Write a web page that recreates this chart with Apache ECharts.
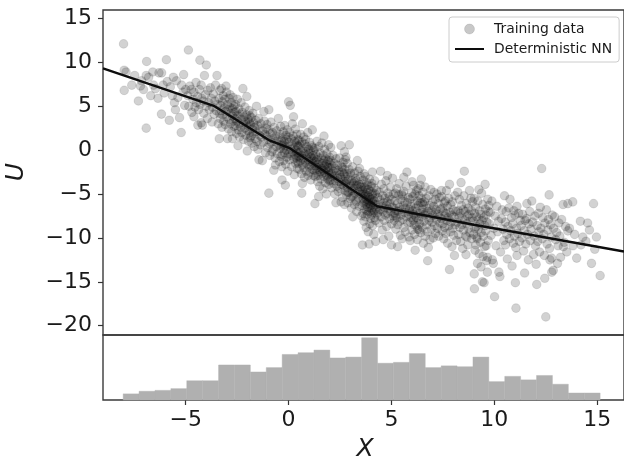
<!DOCTYPE html>
<html>
<head>
<meta charset="utf-8">
<script src="https://cdn.jsdelivr.net/npm/echarts/dist/echarts.min.js"></script>
<style>
  html, body { margin: 0; padding: 0; background: #ffffff; }
  #chart { width: 624px; height: 462px; }
</style>
</head>
<body>
<div id="chart"></div>
<script>
// Training samples (x, u), grouped by x range
const trainLeft = [
  [-8.02,12.1],[-7.99,9.1],[-7.9,8.9],[-7.99,6.8],[-7.3,5.6],[-7.62,7.4],[-7.48,8.5],
  [-6.9,10.1],[-6.92,8.5],[-6.8,8.3],[-6.92,2.5],[-6.56,7.4],[-7.15,7.9],[-7.05,6.9],[-6.7,6.2],[-6.6,8.9],[-7.2,7.3],
  [-6.3,8.8],[-6.17,8.8],[-6.47,7.0],[-6.18,4.1],[-5.94,10.3],[-5.8,3.4],[-5.75,7.2],[-6.05,6.5],[-6.35,5.9],[-5.9,7.8],[-6.1,7.4],
  [-5.3,3.7],[-5.22,2.0],[-5.2,7.4],[-5.13,6.6],[-5.65,6.2],[-5.55,5.4],[-5.45,7.9],[-5.38,6.0],[-5.6,8.3],[-5.05,5.1],[-5.0,6.9],[-5.5,4.6],[-5.1,8.6],
  [-4.87,11.4],[-4.73,6.9],[-4.41,2.85],[-4.31,10.25],[-4.25,3.1],[-4.19,2.85],[-4.9,6.2],[-4.85,5.0],[-4.8,7.3],[-4.7,4.3],[-4.65,5.8],
  [-4.6,6.6],[-4.55,4.9],[-4.5,7.7],[-4.48,5.4],[-4.42,6.1],[-4.38,4.6],[-4.33,6.9],[-4.3,5.2],[-4.25,7.4],[-4.22,5.9],[-4.6,3.8],
  [-4.0,9.7],[-4.09,8.5],[-3.48,8.5],[-4.15,5.6],[-4.12,4.2],[-4.05,6.3],[-4.0,5.0],[-3.95,3.6],[-3.92,6.8],[-3.88,5.4],[-3.85,4.6],
  [-3.8,7.1],[-3.76,5.9],[-3.72,3.2],[-3.7,4.9],[-3.66,6.4],[-3.62,4.1],[-3.58,5.6],[-3.55,7.4],[-3.52,4.5],[-3.45,5.2],[-3.42,3.0]
];
const trainCentre = [
  [-3.37,1.3],[-3.04,7.3],[-2.97,1.3],[-2.73,1.3],[-3.38,5.9],[-3.36,4.2],[-3.34,6.8],[-3.32,3.6],[-3.3,5.1],[-3.28,4.5],
  [-3.26,7.0],[-3.24,2.6],[-3.22,5.5],[-3.2,4.0],[-3.18,6.2],[-3.15,3.3],[-3.12,4.8],[-3.1,5.8],[-3.08,2.9],[-3.06,4.4],
  [-3.02,6.6],[-3.0,3.8],[-2.98,5.2],[-2.95,4.6],[-2.92,2.4],[-2.9,5.9],[-2.88,3.5],[-2.86,4.9],[-2.84,6.3],[-2.82,3.0],
  [-2.8,4.2],[-2.78,5.4],[-2.76,2.1],[-2.74,3.9],[-2.72,4.7],[-2.7,6.0],[-2.68,3.3],[-2.66,5.0],[-2.65,2.7],[-2.64,4.3],
  [-2.46,0.5],[-2.22,7.0],[-2.01,-0.1],[-2.6,3.6],[-2.58,5.2],[-2.57,2.8],[-2.55,4.4],[-2.53,1.9],[-2.51,3.3],[-2.49,5.8],
  [-2.47,3.9],[-2.44,2.3],[-2.42,4.7],[-2.4,3.0],[-2.38,1.5],[-2.36,4.1],[-2.33,2.6],[-2.31,5.4],[-2.29,3.5],[-2.27,2.0],
  [-2.25,4.3],[-2.2,3.1],[-2.18,1.2],[-2.16,3.8],[-2.14,2.5],[-2.12,4.9],[-2.1,3.3],[-2.08,1.7],[-2.06,2.9],[-2.04,4.0],
  [-2.03,6.1],[-1.99,2.2],[-1.97,3.5],[-1.95,1.0],[-1.93,2.7],[-1.92,4.5],[-1.9,3.2],[-1.89,2.0],[-1.88,3.9],[-1.87,1.4],
  [-1.44,-1.1],[-1.28,-1.2],[-1.2,4.4],[-1.85,2.9],[-1.83,1.6],[-1.81,3.7],[-1.79,0.8],[-1.76,2.4],[-1.74,4.2],[-1.72,1.9],
  [-1.7,3.1],[-1.67,0.4],[-1.65,2.6],[-1.63,1.3],[-1.6,3.4],[-1.58,2.1],[-1.56,5.0],[-1.53,1.0],[-1.51,2.8],[-1.49,0.1],
  [-1.46,3.6],[-1.42,1.7],[-1.4,2.4],[-1.37,0.6],[-1.34,3.0],[-1.31,1.5],[-1.26,2.2],[-1.23,0.9],[-1.18,3.3],[-1.15,1.8],
  [-1.12,-0.3],[-1.1,2.5],
  [-0.96,4.6],[-0.96,-4.9],[-0.72,-2.3],[-0.64,-1.7],[-0.32,-3.4],[-1.07,1.6],[-1.05,2.9],[-1.03,0.3],[-1.0,1.2],[-0.98,2.3],
  [-0.93,0.7],[-0.91,-0.6],[-0.89,1.9],[-0.86,3.2],[-0.84,0.9],[-0.81,-0.2],[-0.79,2.0],[-0.77,1.3],[-0.75,0.1],[-0.7,2.6],
  [-0.68,1.0],[-0.66,-0.9],[-0.62,1.6],[-0.6,0.4],[-0.57,2.2],[-0.55,-0.4],[-0.52,1.2],[-0.5,3.6],[-0.47,0.6],[-0.45,-1.3],
  [-0.43,1.8],[-0.41,0.2],[-0.39,2.7],[-0.37,-0.7],[-0.35,1.1],[-0.34,0.5],[-0.33,-1.9],
  [-0.16,-4.0],[0.0,5.5],[0.08,5.1],[0.24,3.8],[-0.3,1.4],[-0.29,-0.5],[-0.28,0.7],[-0.26,2.1],[-0.25,-1.2],[-0.23,0.2],
  [-0.22,1.0],[-0.2,-0.3],[-0.19,2.8],[-0.17,0.5],[-0.14,-1.6],[-0.13,1.7],[-0.11,0.0],[-0.1,1.2],[-0.08,-0.8],[-0.07,2.3],
  [-0.05,0.4],[-0.04,-2.4],[-0.02,1.5],[0.01,-0.4],[0.03,0.9],[0.05,-1.1],[0.06,2.0],[0.1,0.1],[0.11,-0.6],[0.13,1.3],
  [0.15,-1.9],[0.16,0.6],[0.18,3.0],[0.2,-0.2],[0.22,1.6],[0.25,-1.0],[0.27,0.3],[0.28,-2.8],[0.3,1.0],[0.31,-0.5],
  [0.33,2.4],[0.34,-1.5],[0.36,0.0],[0.37,0.8],[0.39,-0.9],[0.4,1.8],[0.41,-0.3],[0.42,-2.1],[0.43,0.5],[0.44,-1.3],
  [0.45,1.2],[0.46,-0.7]
];
const trainSlope = [
  [0.64,-4.9],[0.67,3.0],[0.67,-3.8],[1.15,2.3],[0.47,0.4],[0.48,-1.5],[0.5,-0.3],[0.51,1.1],[0.53,-2.2],[0.54,-0.8],
  [0.56,0.6],[0.57,-1.2],[0.59,1.8],[0.6,-0.1],[0.62,-2.7],[0.63,-0.6],[0.65,0.9],[0.68,-1.7],[0.7,0.2],[0.71,-1.0],
  [0.73,1.5],[0.74,-2.0],[0.76,-0.4],[0.77,-3.1],[0.79,0.7],[0.8,-1.4],[0.82,-0.2],[0.83,1.2],[0.85,-2.4],[0.86,-0.9],
  [0.88,0.4],[0.9,-1.6],[0.91,-0.6],[0.93,2.0],[0.94,-2.9],[0.96,-1.1],[0.97,0.1],[0.99,-1.9],[1.0,-0.4],[1.02,0.9],
  [1.03,-2.5],[1.05,-1.3],[1.06,-0.1],[1.08,-3.4],[1.09,-0.8],[1.11,0.5],[1.12,-1.8],[1.14,-1.0],[1.16,-2.2],[1.17,0.3],
  [1.19,-1.5],[1.2,-0.6],[1.21,-2.9],[1.22,0.0],
  [1.28,-6.1],[1.24,-0.9],[1.25,-2.3],[1.27,-1.3],[1.29,0.2],[1.3,-3.0],[1.32,-1.8],[1.33,-0.5],[1.35,-2.6],[1.36,-1.1],
  [1.38,1.0],[1.39,-2.0],[1.41,-3.6],[1.42,-0.8],[1.44,-1.6],[1.45,-2.9],[1.47,0.4],[1.48,-2.2],[1.5,-1.4],[1.51,-4.1],
  [1.53,-0.3],[1.54,-2.5],[1.56,-1.9],[1.57,-3.3],[1.59,-0.9],[1.6,-2.1],[1.62,0.8],[1.63,-2.7],[1.65,-1.5],[1.66,-4.4],
  [1.68,-0.6],[1.69,-2.3],[1.71,-1.2],[1.72,-3.0],[1.74,-1.8],[1.75,0.1],[1.77,-2.6],[1.78,-3.7],[1.8,-1.0],[1.81,-2.2],
  [1.83,-1.6],[1.84,-5.0],[1.86,-0.4],[1.87,-2.9],[1.89,-1.9],[1.9,-3.3],[1.91,-1.2],[1.93,-2.4],[1.94,0.6],[1.95,-3.9],
  [1.96,-2.0],[1.97,-1.4],[1.98,-2.8],[1.99,-0.8],[1.99,-3.5],[1.72,1.6],[1.46,-5.3],
  [2.55,0.5],[2.55,-5.9],[2.71,-0.2],[2.01,-2.0],[2.03,-3.4],[2.05,-1.2],[2.07,-2.7],[2.09,-4.3],[2.11,-1.8],[2.13,-3.0],
  [2.15,-0.6],[2.17,-2.4],[2.19,-3.8],[2.21,-1.5],[2.23,-2.9],[2.25,-5.0],[2.27,-2.1],[2.29,-3.5],[2.31,-1.0],[2.33,-2.6],
  [2.35,-4.1],[2.37,-3.2],[2.39,-1.7],[2.41,-4.7],[2.43,-2.3],[2.45,-3.6],[2.47,-0.9],[2.49,-2.8],[2.51,-4.4],[2.53,-3.1],
  [2.57,-1.9],[2.58,-3.9],[2.6,-2.5],[2.62,-5.4],[2.63,-3.3],[2.65,-1.4],[2.67,-4.0],[2.69,-2.7],[2.7,-3.6],[2.72,-6.2],
  [2.73,-2.2],[2.74,-4.6],[2.75,-3.0],[2.76,-1.1],[2.77,-3.8],[2.05,0.3],[2.3,-6.0],[2.62,-2.0],
  [2.79,-0.8],[2.95,0.6],[3.34,-1.2],[2.8,-3.6],[2.82,-5.1],[2.84,-2.7],[2.86,-4.3],[2.88,-6.0],[2.9,-3.3],[2.92,-4.8],
  [2.94,-2.2],[2.97,-3.9],[2.99,-5.5],[3.01,-4.1],[3.03,-2.9],[3.05,-6.6],[3.07,-3.5],[3.09,-4.6],[3.11,-1.9],[3.13,-5.2],
  [3.15,-3.8],[3.17,-4.4],[3.19,-6.2],[3.21,-2.6],[3.23,-4.9],[3.25,-3.2],[3.27,-5.7],[3.29,-4.0],[3.31,-7.0],[3.33,-3.5],
  [3.36,-4.7],[3.38,-2.4],[3.4,-5.4],[3.42,-3.9],[3.44,-6.4],[3.46,-4.5],[3.48,-3.0],[3.5,-5.0],[3.52,-4.2],[3.54,-7.5],
  [2.85,-1.5],[3.0,-2.6],[3.12,-7.6],[3.2,-3.6],[3.3,-5.9],[3.45,-2.1],[2.87,-4.8],[3.06,-5.3],[3.37,-4.1],
  [3.59,-10.8],[3.67,-2.7],[3.91,-10.7],[4.07,-2.5],[4.23,-10.4],[3.56,-5.0],[3.57,-3.9],[3.58,-6.3],[3.6,-4.6],[3.61,-7.2],
  [3.62,-5.5],[3.63,-3.4],[3.64,-6.0],[3.65,-4.9],[3.66,-8.1],[3.68,-5.3],[3.69,-4.2],[3.7,-6.7],[3.71,-5.8],[3.72,-3.0],
  [3.73,-7.6],[3.74,-5.1],[3.75,-4.4],[3.76,-6.2],[3.77,-8.8],[3.78,-5.6],[3.79,-3.7],[3.8,-6.9],[3.81,-4.8],[3.82,-5.9],
  [3.83,-7.3],[3.84,-4.0],[3.85,-6.5],[3.86,-5.2],[3.87,-9.3],[3.88,-5.7],[3.89,-4.5],[3.9,-7.0],[3.92,-6.1],[3.93,-3.3],
  [3.94,-5.4],[3.95,-8.4],[3.96,-6.6],[3.97,-4.7],[3.98,-5.9],[3.99,-7.8],[4.0,-6.3],[4.01,-4.1],[4.02,-5.6],[4.03,-7.4],
  [4.04,-6.8],[4.05,-3.8],[4.06,-5.1],[4.08,-8.6],[4.09,-6.0],[4.1,-4.9],[4.11,-7.1],[4.12,-5.5],[4.13,-6.4],[4.14,-9.6],
  [4.15,-4.3],[4.16,-6.9],[4.17,-5.8],[4.18,-7.7],[4.19,-3.5],[4.2,-6.2],[4.21,-5.0],[4.22,-8.0],[4.25,-6.7],[4.28,-4.6],[4.3,-7.3]
];
const trainFlat = [
  [4.47,-2.4],[4.33,-5.4],[4.35,-7.1],[4.37,-6.2],[4.39,-8.3],[4.41,-4.8],[4.43,-6.8],[4.45,-5.7],[4.49,-7.6],[4.51,-3.9],
  [4.53,-6.4],[4.55,-9.1],[4.57,-5.2],[4.59,-7.0],[4.61,-6.0],[4.63,-4.4],[4.65,-8.0],[4.67,-6.6],[4.69,-5.5],[4.71,-7.4],
  [4.73,-3.5],[4.75,-6.3],[4.77,-8.7],[4.79,-5.9],[4.81,-7.2],[4.83,-4.9],[4.85,-6.7],[4.87,-9.8],[4.89,-5.3],[4.91,-7.8],
  [4.93,-6.1],[4.95,-4.2],[4.97,-7.0],[4.99,-5.6],[5.01,-8.4],[5.03,-6.5],[5.05,-3.2],[5.07,-7.5],[5.09,-5.0],[4.6,-10.2],
  [4.8,-2.9],[5.0,-10.8],
  [5.19,-4.9],[5.35,-5.1],[5.43,-9.7],[5.75,-2.5],[5.11,-6.6],[5.13,-8.0],[5.15,-7.2],[5.17,-5.8],[5.21,-9.0],[5.23,-6.9],
  [5.25,-4.4],[5.27,-7.7],[5.29,-6.1],[5.31,-8.5],[5.33,-7.0],[5.37,-3.8],[5.39,-6.5],[5.41,-8.1],[5.45,-5.6],[5.47,-7.4],
  [5.49,-6.8],[5.51,-10.1],[5.53,-5.2],[5.55,-7.9],[5.57,-6.3],[5.59,-4.7],[5.61,-8.8],[5.63,-7.1],[5.65,-5.9],[5.67,-9.3],
  [5.69,-6.6],[5.71,-4.1],[5.73,-7.6],[5.77,-6.0],[5.79,-8.3],[5.81,-5.4],[5.83,-7.3],[5.85,-9.9],[5.86,-6.7],[5.3,-11.0],
  [5.6,-3.1],[5.2,-7.5],[5.5,-5.0],
  [5.91,-10.3],[6.07,-4.0],[6.15,-11.4],[6.39,-4.0],[6.55,-10.6],[6.63,-4.2],[5.88,-7.0],[5.9,-5.6],[5.92,-8.2],[5.94,-6.4],
  [5.96,-7.7],[5.98,-4.9],[6.0,-9.1],[6.02,-6.9],[6.04,-5.3],[6.06,-8.0],[6.08,-7.3],[6.1,-6.1],[6.12,-9.6],[6.14,-5.0],
  [6.16,-7.5],[6.18,-6.6],[6.2,-8.6],[6.22,-4.6],[6.24,-7.0],[6.26,-5.8],[6.28,-9.0],[6.3,-6.3],[6.32,-7.9],[6.34,-5.2],
  [6.36,-8.4],[6.38,-7.2],[6.4,-6.0],[6.42,-9.4],[6.44,-5.5],[6.46,-7.6],[6.48,-6.7],[6.5,-8.8],[6.52,-4.8],[6.54,-7.1],
  [6.56,-6.2],[6.58,-8.1],[6.6,-5.9],[6.62,-7.4],[6.64,-9.8],[6.0,-3.6],[6.25,-10.2],[6.45,-3.3],[6.1,-8.5],[6.3,-4.4],
  [6.5,-6.0],[6.2,-7.7],[6.35,-9.1],
  [6.76,-12.6],[6.79,-11.1],[6.87,-10.2],[7.07,-4.8],[6.66,-7.2],[6.68,-5.5],[6.7,-8.5],[6.72,-6.6],[6.74,-9.3],[6.78,-7.0],
  [6.81,-5.2],[6.83,-8.0],[6.85,-6.3],[6.89,-7.7],[6.91,-4.5],[6.93,-9.0],[6.95,-6.9],[6.97,-8.2],[6.99,-5.9],[7.01,-7.4],
  [7.03,-10.0],[7.05,-6.4],[7.09,-8.6],[7.11,-7.1],[7.13,-5.6],[7.15,-9.5],[7.17,-6.8],[7.19,-7.9],[7.21,-5.0],[7.23,-8.9],
  [7.25,-7.3],[7.27,-6.1],[7.29,-9.8],[7.31,-7.6],[7.33,-5.4],[7.36,-8.3],[7.39,-6.7],
  [7.43,-4.6],[7.44,-5.3],[7.67,-4.6],[7.82,-3.9],[7.82,-13.6],[8.06,-12.0],[7.42,-7.8],[7.46,-9.2],[7.48,-6.6],[7.5,-8.4],
  [7.52,-7.0],[7.54,-10.1],[7.56,-6.0],[7.58,-8.8],[7.6,-7.5],[7.62,-5.8],[7.64,-9.5],[7.66,-7.2],[7.69,-8.0],[7.71,-6.4],
  [7.73,-10.6],[7.75,-7.7],[7.77,-5.5],[7.79,-8.6],[7.84,-7.1],[7.86,-9.3],[7.88,-6.2],[7.9,-8.2],[7.92,-7.4],[7.94,-11.0],
  [7.96,-5.9],[7.98,-8.9],[8.0,-6.8],[8.02,-9.7],[8.04,-7.6],[8.08,-5.2],[8.1,-8.5],[8.13,-7.0],[8.16,-10.3],
  [8.22,-4.8],[8.38,-3.7],[8.54,-2.4],[8.62,-11.9],[8.67,-9.9],[8.86,-5.5],[8.2,-8.2],[8.24,-6.9],[8.26,-9.6],[8.28,-7.6],
  [8.3,-5.6],[8.32,-8.8],[8.34,-7.2],[8.36,-10.4],[8.4,-6.3],[8.42,-8.5],[8.44,-7.8],[8.46,-11.2],[8.48,-6.8],[8.5,-9.1],
  [8.52,-5.2],[8.56,-8.0],[8.58,-7.0],[8.6,-9.8],[8.64,-6.1],[8.66,-8.4],[8.69,-7.5],[8.71,-10.8],[8.73,-6.6],[8.75,-8.9],
  [8.77,-7.3],[8.79,-4.6],[8.81,-9.4],[8.83,-8.1],[8.88,-6.9],[8.9,-10.1],[8.92,-7.7],[8.94,-5.9],
  [9.02,-5.5],[9.02,-14.1],[9.03,-15.8],[9.1,-10.8],[9.18,-12.9],[9.42,-15.0],[9.5,-15.1],[9.66,-13.9],[9.66,-12.2],[9.73,-6.3],
  [8.98,-8.1],[9.0,-9.6],[9.04,-7.2],[9.06,-11.4],[9.08,-6.5],[9.12,-8.7],[9.14,-7.6],[9.16,-10.1],[9.2,-5.8],[9.22,-9.0],
  [9.24,-7.9],[9.26,-11.8],[9.28,-6.9],[9.3,-8.4],[9.32,-10.5],[9.34,-7.3],[9.36,-9.4],[9.38,-4.9],[9.4,-8.0],[9.44,-6.2],
  [9.46,-9.8],[9.48,-7.7],[9.52,-11.0],[9.54,-8.6],[9.56,-6.7],[9.58,-9.2],[9.6,-7.4],[9.62,-12.6],[9.64,-8.2],[9.68,-5.6],
  [9.7,-10.3],[9.72,-7.0],[9.35,-13.3],[9.25,-4.5],[9.55,-3.9],[9.45,-12.1],[9.15,-9.9],[9.6,-10.9],[9.05,-8.9]
];
const trainRight = [
  [9.95,-12.9],[9.9,-12.5],[10.01,-16.7],[10.22,-13.9],[10.27,-14.4],[10.38,-6.8],[10.46,-10.3],[9.76,-8.4],[9.8,-7.1],[9.84,-9.7],
  [9.88,-5.8],[9.98,-8.9],[10.04,-7.5],[10.08,-10.9],[10.12,-6.4],[10.16,-9.3],[10.2,-8.1],[10.3,-11.6],[10.34,-7.8],[10.42,-9.0],[10.49,-5.2],
  [10.54,-10.8],[10.7,-6.6],[11.1,-6.4],[11.02,-15.1],[11.05,-18.0],[11.1,-12.0],[10.53,-8.2],[10.57,-7.0],[10.6,-9.6],[10.63,-12.4],
  [10.66,-8.7],[10.73,-10.1],[10.76,-5.6],[10.8,-9.2],[10.83,-7.7],[10.86,-13.2],[10.89,-8.4],[10.92,-10.6],[10.95,-6.9],[10.98,-9.8],
  [11.0,-7.4],[11.04,-11.1],[11.08,-8.9],[11.14,-9.5],[11.18,-7.2],[11.22,-10.4],[11.26,-8.0],
  [11.42,-11.5],[11.58,-6.1],[11.82,-5.8],[11.9,-11.9],[12.03,-13.0],[11.3,-8.6],[11.34,-10.0],[11.37,-7.3],[11.45,-9.2],[11.49,-8.0],
  [11.53,-10.7],[11.56,-7.8],[11.61,-9.6],[11.65,-12.5],[11.68,-8.4],[11.72,-7.0],[11.75,-10.3],[11.78,-9.0],[11.86,-8.2],[11.94,-9.8],
  [11.97,-7.5],[12.0,-10.9],[11.47,-14.0],
  [12.06,-15.3],[12.3,-2.1],[12.5,-19.0],[12.66,-5.1],[12.7,-12.5],[12.78,-12.3],[12.79,-13.9],[12.08,-8.6],[12.11,-10.4],[12.14,-7.2],
  [12.17,-9.3],[12.2,-11.6],[12.23,-6.5],[12.26,-8.9],[12.33,-10.1],[12.36,-7.7],[12.4,-9.6],[12.43,-12.0],[12.46,-8.3],[12.53,-6.8],
  [12.56,-10.7],[12.6,-9.1],[12.63,-7.9],[12.68,-11.2],[12.73,-8.5],[12.76,-9.9],[12.81,-7.4],[12.45,-14.6],
  [12.86,-13.7],[13.1,-10.9],[13.22,-12.2],[13.34,-6.2],[13.35,-11.0],[13.57,-6.1],[13.57,-9.2],[12.88,-8.9],[12.93,-7.6],[12.98,-10.2],
  [13.03,-9.4],[13.07,-12.9],[13.14,-8.3],[13.18,-9.8],[13.27,-7.9],[13.4,-10.5],[13.46,-8.7],[13.52,-11.6],
  [13.65,-8.9],[13.81,-5.9],[13.82,-10.9],[14.0,-12.3],[14.18,-8.1],[14.21,-10.8],[13.9,-9.6],[14.3,-9.9],
  [14.53,-8.3],[14.72,-12.9],[14.82,-6.1],[14.96,-9.9],[15.14,-14.3],[14.45,-10.4],[14.62,-9.1],[14.88,-11.3]
];

// Deterministic NN prediction (piecewise linear)
const nnX = [-9.02, -3.6, -0.96, 0.08, 4.3, 9.0, 11.4, 16.3];
const nnU = [9.3, 5.0, 1.14, 0.19, -6.4, -8.5, -9.5, -11.55];

// Histogram of x: 30 equal bins between histLo and histHi
const histLo = -8.04;
const histHi = 15.14;
const histCounts = [7, 10, 11, 13, 22, 22, 40, 40, 32, 37, 52, 54, 57, 48, 49, 71, 42, 43, 53, 37, 39, 38, 49, 21, 27, 23, 28, 18, 8, 8];

// Axis ranges and ticks
const xRange = [-9.02, 16.3];
const uRange = [-21.06, 15.96];
const xTicks = [-5, 0, 5, 10, 15];
const uTicks = [-20, -15, -10, -5, 0, 5, 10, 15];

const minus = v => String(v).replace('-', '\u2212');
const FONT = 'DejaVu Sans';

const training = [].concat(trainLeft, trainCentre, trainSlope, trainFlat, trainRight);
const nnLine = nnX.map((x, i) => [x, nnU[i]]);
const binW = (histHi - histLo) / histCounts.length;
const histData = histCounts.map((c, i) => [histLo + i * binW, histLo + (i + 1) * binW, c]);
const histMax = Math.max(...histCounts) * 1.045;

const chart = echarts.init(document.getElementById('chart'), null, { renderer: 'canvas' });

chart.setOption({
  animation: false,
  backgroundColor: '#ffffff',
  grid: [
    { left: 103, right: -8, top: 10, height: 325, show: true, borderColor: '#3a3a3a', borderWidth: 1.4, backgroundColor: 'transparent' },
    { left: 103, right: -8, top: 335, height: 65, show: true, borderColor: '#3a3a3a', borderWidth: 1.4, backgroundColor: 'transparent' }
  ],
  xAxis: [
    {
      gridIndex: 0, type: 'value', min: xRange[0], max: xRange[1],
      axisLine: { show: false, onZero: false }, axisTick: { show: false }, axisLabel: { show: false }, splitLine: { show: false }
    },
    {
      gridIndex: 1, type: 'value', min: xRange[0], max: xRange[1], position: 'bottom',
      axisLine: { show: false, onZero: false },
      axisTick: { show: true, customValues: xTicks, length: 5, lineStyle: { color: '#333', width: 1.2 } },
      axisLabel: {
        show: true, customValues: xTicks, margin: 9, formatter: minus,
        fontFamily: FONT, fontSize: 22, color: '#1a1a1a'
      },
      splitLine: { show: false }
    }
  ],
  yAxis: [
    {
      gridIndex: 0, type: 'value', min: uRange[0], max: uRange[1], position: 'left',
      axisLine: { show: false, onZero: false },
      axisTick: { show: true, customValues: uTicks, length: 5, lineStyle: { color: '#333', width: 1.2 } },
      axisLabel: {
        show: true, customValues: uTicks, margin: 11, formatter: minus,
        fontFamily: FONT, fontSize: 22, color: '#1a1a1a'
      },
      splitLine: { show: false }
    },
    {
      gridIndex: 1, type: 'value', min: 0, max: histMax,
      axisLine: { show: false, onZero: false }, axisTick: { show: false }, axisLabel: { show: false }, splitLine: { show: false }
    }
  ],
  legend: {
    left: 449, top: 17,
    orient: 'vertical',
    itemWidth: 29, itemHeight: 10, itemGap: 6,
    padding: [5, 7, 6, 5],
    backgroundColor: 'rgba(255,255,255,0.85)',
    borderColor: '#cccccc', borderWidth: 1, borderRadius: 3,
    textStyle: { fontFamily: FONT, fontSize: 13.9, color: '#1a1a1a', lineHeight: 14, padding: [0, 0, 0, 5] },
    data: [
      { name: 'Training data', icon: 'circle', itemStyle: { color: 'rgba(0,0,0,0.27)', borderColor: 'rgba(0,0,0,0.12)', borderWidth: 1 } },
      { name: 'Deterministic NN', itemStyle: { color: 'transparent', borderWidth: 0, opacity: 0 } }
    ]
  },
  series: [
    {
      name: 'Training data', type: 'scatter', xAxisIndex: 0, yAxisIndex: 0,
      data: training, symbol: 'circle', symbolSize: 8.6,
      itemStyle: { color: 'rgba(0,0,0,0.22)', borderColor: 'rgba(0,0,0,0.14)', borderWidth: 1 },
      emphasis: { disabled: true }, z: 2
    },
    {
      name: 'Deterministic NN', type: 'line', xAxisIndex: 0, yAxisIndex: 0,
      data: nnLine, symbol: 'none', showSymbol: false,
      lineStyle: { color: '#0d0d0d', width: 2.4 }, itemStyle: { color: '#0d0d0d' },
      emphasis: { disabled: true }, z: 3
    },
    {
      name: 'x histogram', type: 'custom', xAxisIndex: 1, yAxisIndex: 1,
      data: histData,
      renderItem: (params, api) => {
        const p0 = api.coord([api.value(0), api.value(2)]);
        const p1 = api.coord([api.value(1), 0]);
        return {
          type: 'rect',
          shape: { x: p0[0], y: p0[1], width: p1[0] - p0[0], height: p1[1] - p0[1] },
          style: { fill: '#b0b0b0', stroke: '#b0b0b0', lineWidth: 0.4 }
        };
      },
      z: 1
    }
  ],
  graphic: [
    {
      type: 'text', x: 16, y: 172, rotation: Math.PI / 2,
      style: { text: 'U', font: 'italic 25px "DejaVu Sans"', fill: '#1a1a1a', align: 'center', verticalAlign: 'middle' }
    },
    {
      type: 'text', x: 365, y: 449,
      style: { text: 'X', font: 'italic 25px "DejaVu Sans"', fill: '#1a1a1a', align: 'center', verticalAlign: 'middle' }
    }
  ]
});
</script>
</body>
</html>
